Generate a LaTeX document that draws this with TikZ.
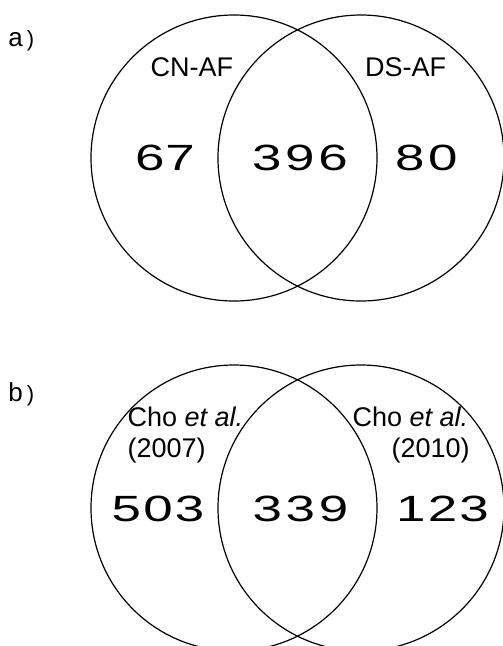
\documentclass[tikz,border=0pt]{standalone}
\usepackage{fontspec}
\usepackage{graphicx}
\setmainfont{Liberation Sans}
\newcommand{\widedigits}[1]{\scalebox{1.45}[1]{#1}}
\begin{document}
\begin{tikzpicture}[x=1pt,y=-1pt,
  venn/.style={draw=black,line width=1.2pt},
  lab/.style={inner sep=0pt,anchor=base west,font=\fontsize{27}{31}\selectfont},
  num/.style={inner sep=0pt,anchor=base west,font=\fontsize{36.5}{40}\selectfont},
  panel/.style={inner sep=0pt,anchor=base west,font=\fontsize{26}{30}\selectfont}]
\useasboundingbox (0,0) rectangle (503,646);
\begin{scope}
\clip (0,0) rectangle (503,646);
% panel a
\draw[venn] (234,158) circle (143);
\draw[venn] (361,158) circle (143);
% panel b
\draw[venn] (234,508) circle (143);
\draw[venn] (361,508) circle (143);
\end{scope}
\node[panel] (pa) at (8.3,46.7) {a\kern4pt{\fontsize{22}{26}\selectfont)}};
\node[panel] (pb) at (8.2,401.7) {b\kern4pt{\fontsize{22}{26}\selectfont)}};
\node[lab] (cn) at (150.5,76) {CN-AF};
\node[lab] (ds) at (365,76) {DS-AF};
\node[num] (n67) at (135,170.5) {\widedigits{6\kern0.5pt 7}};
\node[num] (n396) at (252,170.5) {\widedigits{3\kern2.5pt 9\kern2.5pt 6}};
\node[num] (n80) at (395,170.5) {\widedigits{8\kern2.5pt 0}};
\node[lab] (c1) at (127.5,426.7) {Cho \textit{et al.}};
\node[lab] (y1) at (127.5,457.8) {(2007)};
\node[lab] (c2) at (352.5,426.7) {Cho \textit{et al.}};
\node[lab] (y2) at (391.5,457.8) {(2010)};
\node[num] (n503) at (111.5,521) {\widedigits{5\kern1.5pt 0\kern1.5pt 3}};
\node[num] (n339) at (252.5,521) {\widedigits{3\kern2.5pt 3\kern2.5pt 9}};
\node[num] (n123) at (396,521) {\widedigits{1\kern1.5pt 2\kern1.5pt 3}};
\end{tikzpicture}
\end{document}
